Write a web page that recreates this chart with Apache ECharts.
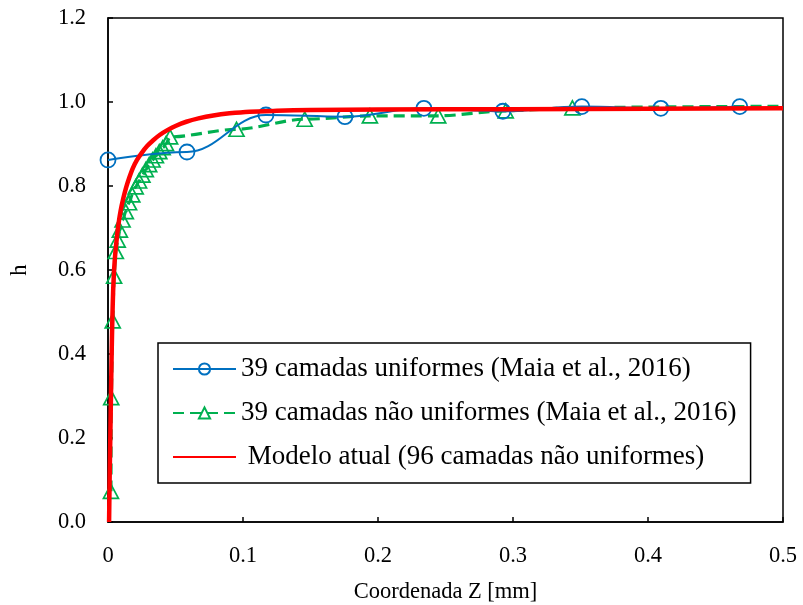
<!DOCTYPE html>
<html>
<head>
<meta charset="utf-8">
<script src="https://cdn.jsdelivr.net/npm/echarts@6/dist/echarts.min.js"></script>
<style>
  html, body { margin: 0; padding: 0; background: #fff; }
  #chart { width: 803px; height: 605px; }
</style>
</head>
<body>
<div id="chart"></div>
<script>
// Perfil de h ao longo da coordenada Z

const nameUniform = '39 camadas uniformes (Maia et al., 2016)';
const nameNonUniform = '39 camadas não uniformes (Maia et al., 2016)';
const nameModel = ' Modelo atual (96 camadas não uniformes)';

// 39 camadas uniformes
const zUniform = [0, 0.0585, 0.117, 0.1755, 0.234, 0.2925, 0.351, 0.4095, 0.468];
const hUniform = [0.862, 0.881, 0.969, 0.965, 0.985, 0.978, 0.989, 0.985, 0.989];

// 39 camadas não uniformes
const zNonUniform = [0.0022, 0.0024, 0.0035, 0.0045, 0.0058, 0.0072, 0.0088, 0.0108, 0.0132, 0.0156,
  0.018, 0.0205, 0.023, 0.0255, 0.028, 0.0305, 0.033, 0.0355, 0.038, 0.0405, 0.043, 0.046,
  0.0952, 0.1457, 0.194, 0.2446, 0.2946, 0.344];
const hNonUniform = [0.073, 0.296, 0.479, 0.585, 0.644, 0.671, 0.695, 0.719, 0.739, 0.760,
  0.779, 0.798, 0.812, 0.826, 0.839, 0.851, 0.862, 0.872, 0.882, 0.891, 0.901, 0.917,
  0.935, 0.959, 0.967, 0.967, 0.979, 0.986];
// continuação da curva tracejada sem marcadores
const zNonUniformTail = [0.40, 0.45, 0.50];
const hNonUniformTail = [0.988, 0.989, 0.990];

// Modelo atual
const zModel = [0.0008, 0.0012, 0.0017, 0.0022, 0.0027, 0.0032, 0.0038, 0.0045, 0.0054, 0.0065,
  0.0078, 0.0094, 0.0113, 0.0134, 0.0158, 0.0185, 0.0215, 0.025, 0.029, 0.0335, 0.0385,
  0.044, 0.05, 0.058, 0.067, 0.078, 0.09, 0.105, 0.125, 0.15, 0.2, 0.3, 0.4, 0.5];
const hModel = [0.0, 0.1, 0.2, 0.3, 0.4, 0.48, 0.55, 0.6, 0.64, 0.675,
  0.71, 0.742, 0.77, 0.796, 0.82, 0.843, 0.862, 0.879, 0.895, 0.909, 0.922,
  0.933, 0.943, 0.953, 0.961, 0.968, 0.973, 0.977, 0.979, 0.981, 0.982, 0.983, 0.984, 0.985];

const xTicks = { min: 0, max: 0.5, interval: 0.1 };
const yTicks = { min: 0, max: 1.2, interval: 0.2 };

const FONT = '"Liberation Serif", "Times New Roman", serif';
const BLUE = '#0070C0';
const GREEN = '#00B050';
const RED = '#FF0000';
const CLEAR = 'rgba(255,255,255,0)';

const pairs = (xs, ys) => xs.map((x, i) => [x, ys[i]]);

const greenData = pairs(zNonUniform, hNonUniform).concat(
  pairs(zNonUniformTail, hNonUniformTail).map(p => ({ value: p, symbol: 'none' }))
);

const chart = echarts.init(document.getElementById('chart'), null, { renderer: 'canvas' });

const axisText = { fontFamily: FONT, fontSize: 22.5, color: '#000' };

chart.setOption({
  animation: false,
  backgroundColor: '#fff',
  grid: {
    left: 108, right: 20, top: 18, bottom: 83,
    containLabel: false,
    outerBoundsMode: 'none',
    show: true, borderColor: '#000', borderWidth: 1.5, backgroundColor: 'transparent'
  },
  xAxis: {
    type: 'value',
    min: xTicks.min, max: xTicks.max, interval: xTicks.interval,
    name: 'Coordenada Z [mm]',
    nameLocation: 'middle',
    nameGap: 59,
    nameTextStyle: axisText,
    axisLine: { show: true, lineStyle: { color: '#000', width: 1.5 } },
    axisTick: { show: true, inside: true, length: 5, lineStyle: { color: '#000', width: 1.5 } },
    axisLabel: Object.assign({ margin: 23 }, axisText),
    splitLine: { show: false }
  },
  yAxis: {
    type: 'value',
    min: yTicks.min, max: yTicks.max, interval: yTicks.interval,
    name: 'h',
    nameLocation: 'middle',
    nameGap: 76,
    nameTextStyle: axisText,
    axisLine: { show: true, lineStyle: { color: '#000', width: 1.5 } },
    axisTick: { show: true, inside: true, length: 5, lineStyle: { color: '#000', width: 1.5 } },
    axisLabel: Object.assign({ margin: 22, formatter: v => v.toFixed(1) }, axisText),
    splitLine: { show: false }
  },
  legend: {
    orient: 'vertical',
    left: 158,
    top: 343,
    padding: [11, 14, 11, 14],
    itemGap: 14,
    itemWidth: 63,
    itemHeight: 14,
    borderColor: '#000',
    borderWidth: 1.5,
    backgroundColor: '#fff',
    textStyle: { fontFamily: FONT, fontSize: 27, color: '#000', lineHeight: 30 },
    data: [nameUniform, nameNonUniform, nameModel]
  },
  series: [
    {
      name: nameNonUniform,
      type: 'line',
      smooth: 0.3,
      smoothMonotone: 'x',
      data: greenData,
      symbol: 'triangle',
      symbolSize: [15, 14],
      lineStyle: { color: GREEN, width: 3.2, type: [11, 6] },
      itemStyle: { color: CLEAR, borderColor: GREEN, borderWidth: 1.7 },
      z: 2
    },
    {
      name: nameUniform,
      type: 'line',
      smooth: 0.4,
      smoothMonotone: 'x',
      data: pairs(zUniform, hUniform),
      symbol: 'circle',
      symbolSize: 15,
      lineStyle: { color: BLUE, width: 2 },
      itemStyle: { color: CLEAR, borderColor: BLUE, borderWidth: 1.8 },
      z: 3
    },
    {
      name: nameModel,
      type: 'line',
      smooth: 0.2,
      data: pairs(zModel, hModel),
      symbol: 'none',
      lineStyle: { color: RED, width: 4.5 },
      itemStyle: { color: CLEAR },
      z: 4
    }
  ]
});
</script>
</body>
</html>
